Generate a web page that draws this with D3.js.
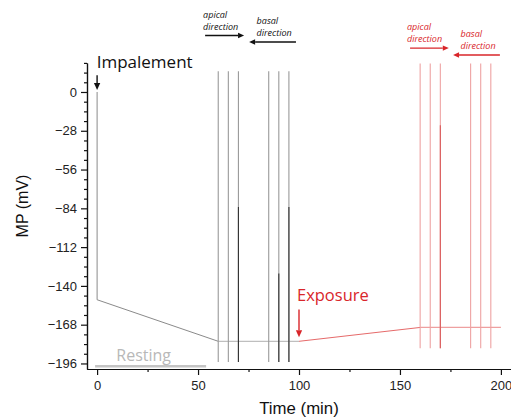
<!DOCTYPE html>
<html>
<head>
<meta charset="utf-8">
<script src="https://cdn.jsdelivr.net/npm/d3@7/dist/d3.min.js"></script>
<style>
  html, body { margin: 0; padding: 0; background: #fff; }
  svg { display: block; }
  .axis text { font-family: "Liberation Sans", Arial, sans-serif; font-size: 13px; fill: #222; }
  .axis path, .axis line { stroke: #111; stroke-width: 1.2; }
  .note { font-family: "Open Sans", "Noto Sans", sans-serif; }
</style>
</head>
<body>
<svg id="chart" width="511" height="418"></svg>
<script>
// Membrane potential recording (mV) over time (min)
const xTicks = [0, 50, 100, 150, 200];
const xMinorTicks = [25, 75, 125, 175];
const yTicks = [0, -28, -56, -84, -112, -140, -168, -196];

// baseline trace before exposure: [time, mV]
const controlTrace = [[0, 0], [0, -150], [60, -180], [100, -180]];
// trace after exposure
const exposureTrace = [[100, -180], [160, -170], [200, -170]];
// resting potential reference
const restingTrace = [[-1, -198], [54, -198]];

// stimulation spikes, control phase
const controlSpikeTimes = [60, 65, 70, 85, 90, 95];
const controlSpikeTops = [15, 15, 15, 15, 15, 15];
const controlSpikeBottoms = [-195, -195, -195, -195, -195, -195];
const controlSpikeDeep = [null, null, -83, null, -131, -83];

// stimulation spikes, exposure phase
const exposureSpikeTimes = [160, 165, 170, 185, 190, 195];
const exposureSpikeTops = [20.5, 20.5, 20.5, 20.5, 20.5, 20.5];
const exposureSpikeBottoms = [-185, -185, -185, -185, -185, -185];
const exposureSpikeDeep = [null, null, -24, null, null, null];

const svg = d3.select("#chart");
const x = d3.scaleLinear([-5, 205], [87, 511]);
const y = d3.scaleLinear([-200, 21], [369, 62.9]);

const RED = "#d9262a";

// axes
const yMinor = d3.range(-196, 22, 7).filter(v => !yTicks.includes(v));
svg.append("g").attr("class", "axis").attr("transform", `translate(${x(-5)},0)`)
  .call(d3.axisLeft(y).tickValues(yMinor).tickSize(3).tickSizeOuter(0).tickFormat(""));
svg.append("g").attr("class", "axis").attr("transform", `translate(${x(-5)},0)`)
  .call(d3.axisLeft(y).tickValues(yTicks).tickSize(6).tickPadding(4).tickSizeOuter(0));

svg.append("g").attr("class", "axis").attr("transform", `translate(0,${y(-200)})`)
  .call(d3.axisBottom(x).tickValues(xMinorTicks).tickSize(3).tickSizeOuter(0).tickFormat(""));
svg.append("g").attr("class", "axis").attr("transform", `translate(0,${y(-200)})`)
  .call(d3.axisBottom(x).tickValues(xTicks).tickSize(6).tickPadding(6).tickSizeOuter(0));

// axis titles
svg.append("text")
  .attr("x", 299).attr("y", 414)
  .attr("text-anchor", "middle")
  .style("font-family", "'Liberation Sans', Arial, sans-serif")
  .style("font-size", "16.8px").style("fill", "#111")
  .text("Time (min)");
svg.append("text")
  .attr("transform", `translate(28,${206}) rotate(-90)`)
  .attr("text-anchor", "middle")
  .style("font-family", "'Liberation Sans', Arial, sans-serif")
  .style("font-size", "16px").style("fill", "#111")
  .text("MP (mV)");

const line = d3.line().x(d => x(d[0])).y(d => y(d[1]));

// resting line
svg.append("path").datum(restingTrace).attr("d", line)
  .attr("fill", "none").attr("stroke", "#c4c4c4").attr("stroke-width", 2.5);

// control trace
svg.append("path").datum(controlTrace.slice(0, 3)).attr("d", line)
  .attr("fill", "none").attr("stroke", "#8a8a8a").attr("stroke-width", 1);
svg.append("path").datum(controlTrace.slice(2)).attr("d", line)
  .attr("fill", "none").attr("stroke", "#b0b0b0").attr("stroke-width", 1);

// exposure trace
svg.append("path").datum(exposureTrace.slice(0, 2)).attr("d", line)
  .attr("fill", "none").attr("stroke", "#e66a6a").attr("stroke-width", 1);
svg.append("path").datum(exposureTrace.slice(1)).attr("d", line)
  .attr("fill", "none").attr("stroke", "#eea0a0").attr("stroke-width", 1.2);

function spikes(times, tops, bottoms, deep, light, dark, cls) {
  const data = times.map((t, i) => ({ t, top: tops[i], bottom: bottoms[i], deep: deep[i] }));
  svg.selectAll("line." + cls).data(data).join("line").attr("class", cls)
    .attr("x1", d => x(d.t)).attr("x2", d => x(d.t))
    .attr("y1", d => y(d.top)).attr("y2", d => y(d.bottom))
    .attr("stroke", light).attr("stroke-width", 1.1);
  svg.selectAll("line." + cls + "d").data(data.filter(d => d.deep !== null)).join("line")
    .attr("class", cls + "d")
    .attr("x1", d => x(d.t)).attr("x2", d => x(d.t))
    .attr("y1", d => y(d.deep)).attr("y2", d => y(d.bottom))
    .attr("stroke", dark).attr("stroke-width", 1.1);
}
spikes(controlSpikeTimes, controlSpikeTops, controlSpikeBottoms, controlSpikeDeep, "#9a9a9a", "#333", "cs");
spikes(exposureSpikeTimes, exposureSpikeTops, exposureSpikeBottoms, exposureSpikeDeep, "#eea2a2", "#d95a5a", "ex");

// arrows (shaft + head), in data coordinates
function arrow(t0, v0, t1, v1, color, width, head) {
  const x0 = x(t0), y0 = y(v0), x1 = x(t1), y1 = y(v1);
  const a = Math.atan2(y1 - y0, x1 - x0);
  const bx = x1 - head * Math.cos(a), by = y1 - head * Math.sin(a);
  svg.append("line").attr("x1", x0).attr("y1", y0).attr("x2", bx).attr("y2", by)
    .attr("stroke", color).attr("stroke-width", width);
  const w = head * 0.45;
  const px = -Math.sin(a) * w, py = Math.cos(a) * w;
  svg.append("path")
    .attr("d", `M${x1},${y1}L${bx + px},${by + py}L${bx - px},${by - py}Z`)
    .attr("fill", color);
}

function note(t, v, lines, color, size, italic, gap) {
  const tx = svg.append("text").attr("class", "note")
    .attr("x", x(t)).attr("y", y(v))
    .style("font-size", size + "px").style("fill", color)
    .style("font-style", italic ? "italic" : "normal");
  lines.forEach((s, i) => tx.append("tspan").attr("x", x(t)).attr("dy", i ? gap : 0).text(s));
}

// Impalement
note(-0.2, 17.5, ["Impalement"], "#111", 17, false, 0);
arrow(0, 12, 0, 1.5, "#111", 1.4, 7);

// Exposure
note(99, -151, ["Exposure"], RED, 16.5, false, 0);
arrow(100, -157, 100, -177, RED, 1.4, 7);

// Resting
note(9.5, -194.5, ["Resting"], "#b8b8b8", 16, false, 0);

// direction labels
note(52.5, 53.5, ["apical", "direction"], "#111", 9, true, 12);
arrow(53.5, 40.8, 72.8, 40.8, "#111", 1.4, 6);
note(79, 49, ["basal", "direction"], "#111", 9, true, 12);
arrow(98.5, 36.1, 75.3, 36.1, "#111", 1.4, 6);

note(153.5, 44.5, ["apical", "direction"], RED, 9, true, 12);
arrow(155, 31.7, 174.2, 31.7, RED, 1.4, 6);
note(180, 40, ["basal", "direction"], RED, 9, true, 12);
arrow(199.5, 26.7, 176.3, 26.7, RED, 1.4, 6);
</script>
</body>
</html>
